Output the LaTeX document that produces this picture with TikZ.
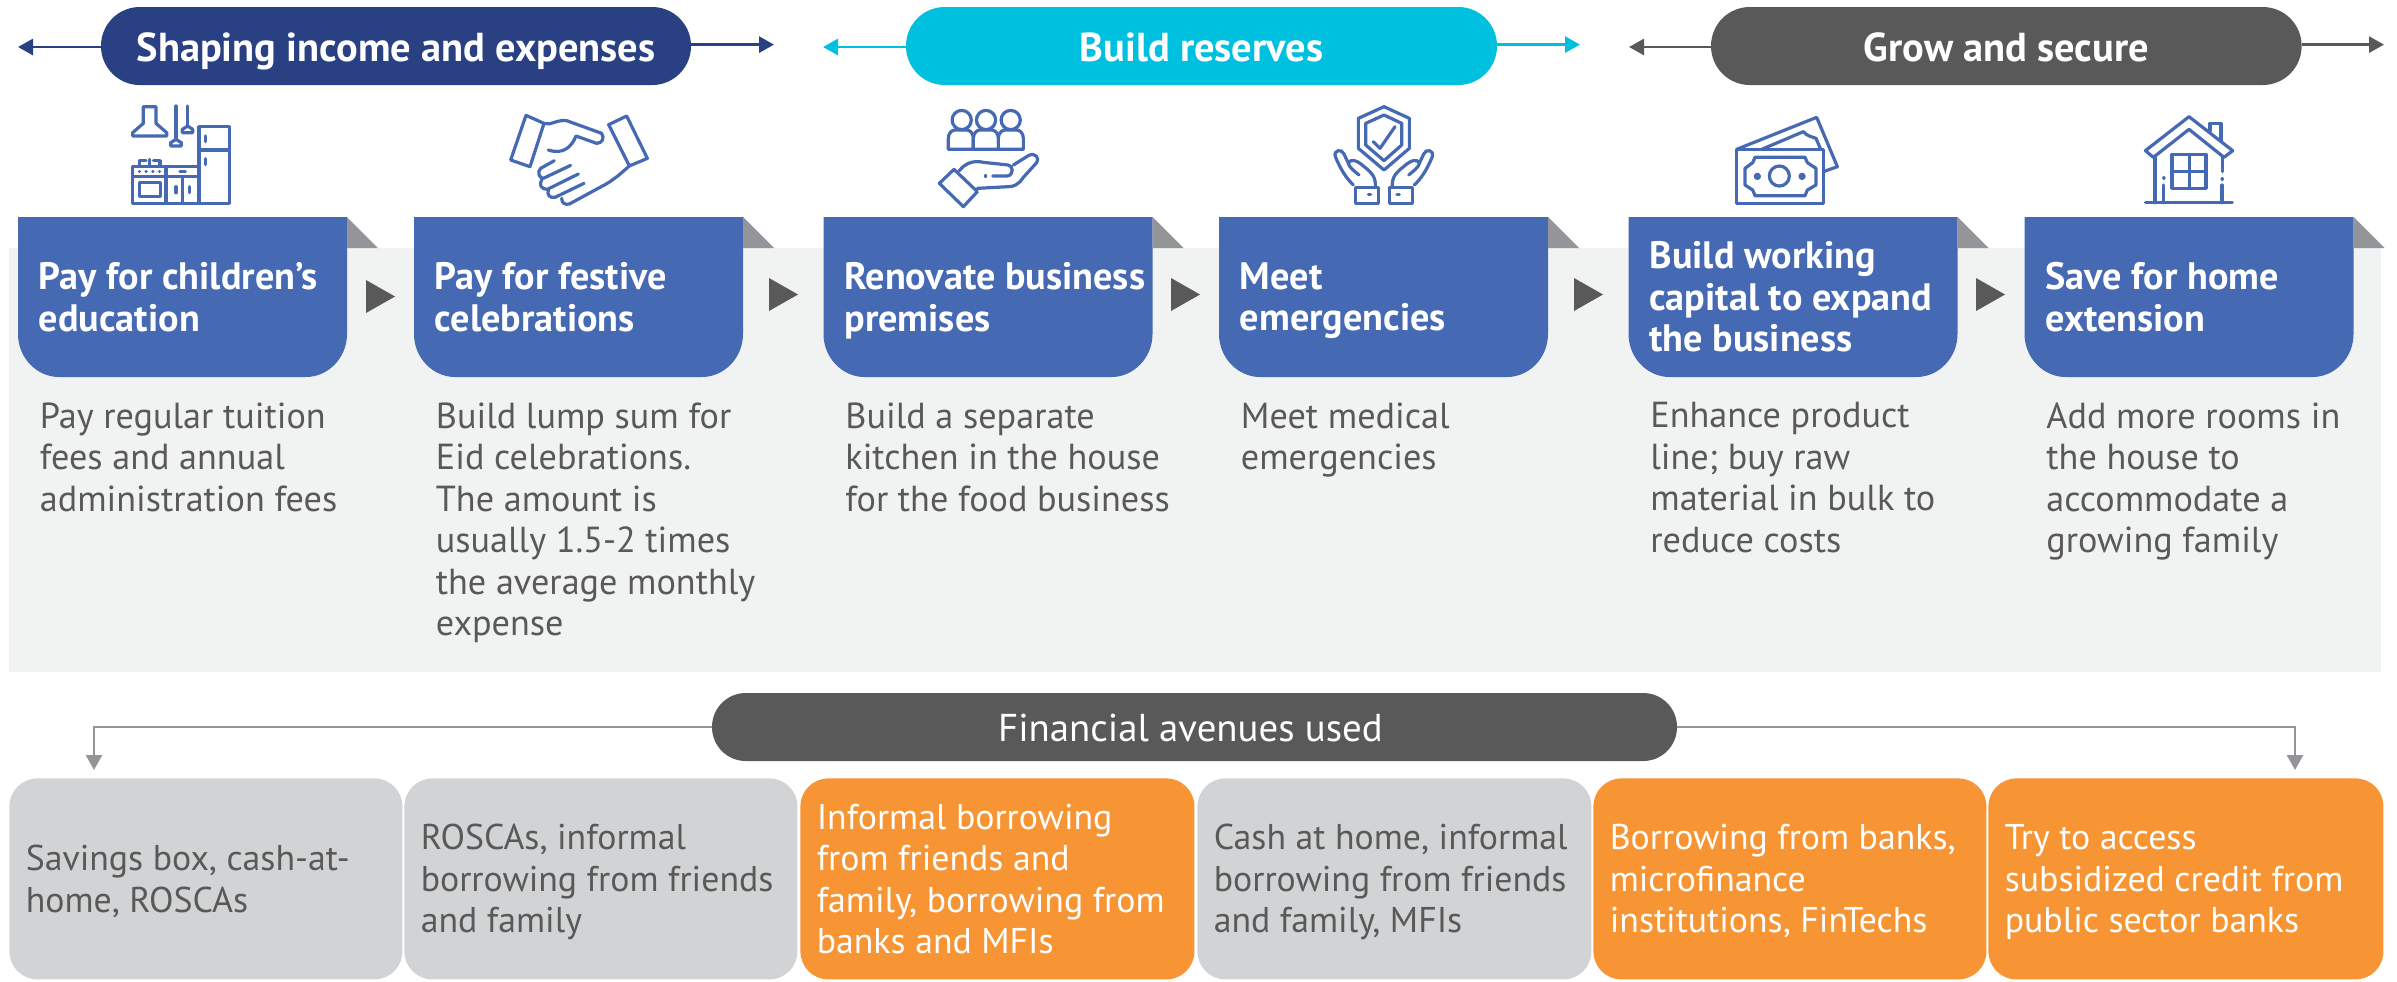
\documentclass[tikz,border=0pt]{standalone}
\usepackage{fontspec}
\setmainfont{PT Sans}
\usetikzlibrary{arrows.meta}
\definecolor{navy}{HTML}{294182}
\definecolor{cyanc}{HTML}{00C0E0}
\definecolor{darkg}{HTML}{595959}
\definecolor{cardb}{HTML}{4569B2}
\definecolor{orangec}{HTML}{F79433}
\definecolor{boxg}{HTML}{D1D3D4}
\definecolor{foldg}{HTML}{939598}
\definecolor{panel}{HTML}{F1F3F3}
\newcommand{\dn}[1]{\raisebox{-3pt}{#1}}
\tikzset{
  struts/.style={execute at begin node=\strut,execute at end node=\strut},
  pill/.style={struts,rounded corners=19.4pt,inner sep=0pt,text=white,minimum height=39pt,font=\fontsize{20.2}{24}\selectfont\bfseries},
  fapill/.style={struts,rounded corners=16.9pt,inner sep=0pt,text=white,fill=darkg,minimum height=34pt,font=\fontsize{19.4}{22}\selectfont},
  arr/.style={line width=1.4pt,-{Triangle[length=7.5pt,width=8pt]}},
  title/.style={struts,anchor=west,inner sep=0pt,text=white,align=left,font=\fontsize{19.1}{20.75pt}\selectfont\bfseries},
  bodyt/.style={struts,anchor=north west,inner sep=0pt,text=darkg,align=left,font=\fontsize{18.1}{20.75pt}\selectfont},
  finbox/.style={anchor=north west,rounded corners=14pt,inner sep=0pt,minimum height=100.5pt},
  greybox/.style={finbox,fill=boxg},
  orangebox/.style={finbox,fill=orangec},
  fintext/.style={struts,anchor=west,inner sep=0pt,xshift=8.2pt,yshift=-3pt,align=left,font=\fontsize{17.9}{20.75pt}\selectfont},
  icon/.style={draw=cardb,line width=1.6pt,line join=round,line cap=round,fill=none},
  iconz/.style={x=.16667pt,y=-.16667pt},
}
\newcommand{\mkcard}[5]{%
  \fill[cardb] (#2,217) -- ({#2+329},217) -- ({#2+329},334) .. controls ({#2+329},358) and ({#2+310},377) .. ({#2+288},377) -- ({#2+41},377) .. controls ({#2+19},377) and (#2,358) .. (#2,334) -- cycle;
  \fill[foldg] ({#2+329},217) -- ({#2+360},248) -- ({#2+329},248) -- cycle;
  \node[title] (t#1) at ({#2+20.5},303) {#3};
  \node[bodyt] (b#1) at ({#2+21.5},#5) {#4};
}
\newcommand{\playtri}[2]{\fill[darkg] (#1,{#2-16.5}) -- ({#1+29},#2) -- (#1,{#2+16.5}) -- cycle;}
\begin{document}
\begin{tikzpicture}[x=.5pt,y=-.5pt]
\useasboundingbox (0,0) rectangle (2397,981);
\fill[panel] (9,248) rectangle (2381,672);

% headers
\node[pill,fill=navy,minimum width=295pt] (p1) at (396,46) {\dn{Shaping income and expenses}};
\node[pill,fill=cyanc,minimum width=295.5pt] (p2) at (1201.5,46) {\dn{Build reserves}};
\node[pill,fill=darkg,minimum width=295.3pt] (p3) at (2006.3,46) {\dn{Grow and secure}};
\coordinate (p1l) at (18,47); \coordinate (p1r) at (774,44.6);
\coordinate (p2l) at (823,47); \coordinate (p2r) at (1580,44.6);
\coordinate (p3l) at (1629,47); \coordinate (p3r) at (2384,44.6);
\draw[arr,navy] (p1.west |- p1l) -- (p1l);
\draw[arr,navy] (p1.east |- p1r) -- (p1r);
\draw[arr,cyanc] (p2.west |- p2l) -- (p2l);
\draw[arr,cyanc] (p2.east |- p2r) -- (p2r);
\draw[arr,darkg] (p3.west |- p3l) -- (p3l);
\draw[arr,darkg] (p3.east |- p3r) -- (p3r);

% cards
\mkcard{1}{18}{Pay for children’s\\education}{Pay regular tuition\\fees and annual\\administration fees}{402}
\mkcard{2}{414}{Pay for festive\\celebrations}{Build lump sum for\\Eid celebrations.\\The amount is\\usually 1.5-2 times\\the average monthly\\expense}{402}
\mkcard{3}{823.5}{Renovate business\\premises}{Build a separate\\kitchen in the house\\for the food business}{402}
\mkcard{4}{1219}{Meet\\emergencies}{Meet medical\\emergencies}{402}
\mkcard{5}{1628.5}{Build working\\capital to expand\\the business}{Enhance product\\line; buy raw\\material in bulk to\\reduce costs}{402}
\mkcard{6}{2024.5}{Save for home\\extension}{Add more rooms in\\the house to\\accommodate a\\growing family}{402}
\playtri{366}{296.5}
\playtri{769}{294.5}
\playtri{1171}{294.5}
\playtri{1574}{294.5}
\playtri{1976}{294.5}

% icon: kitchen
\begin{scope}[shift={(120,100)},iconz,icon]
\draw[icon] (70,70)--(70,20)--(108,20)--(108,70)--(140,98)--(140,108)--(38,108)--(38,98)--cycle;
\draw[icon] (168,18)--(168,118) (203,18)--(203,78);
\draw[icon] (152,138)--(152,128)--(168,118)--(184,128)--(184,138)--cycle;
\draw[icon] (187,98)--(187,88)--(203,78)--(218,88)--(218,98)--cycle;
\draw[icon] (237,80) rectangle (328,310);
\draw[icon] (237,150)--(328,150);
\draw[icon] (257,108)--(257,125) (257,176)--(257,194);
\draw[icon] (38,200) rectangle (237,310);
\draw[icon] (138,200)--(138,310) (38,230)--(237,230) (188,230)--(188,310);
\draw[icon] (58,248) rectangle (122,290);
\draw[icon] (58,215)--(59,215) (78,215)--(79,215) (98,215)--(99,215) (118,215)--(119,215);
\draw[icon] (180,215)--(196,215) (168,260)--(168,278) (208,260)--(208,278);
\draw[icon] (58,198)--(58,182)--(78,182) (88,198)--(88,178) (100,182)--(120,182)--(120,198);
\end{scope}

% icon: handshake
\begin{scope}[shift={(500,100)},iconz,icon]
\draw[icon] (78,46)--(132,70)--(90,200)--(32,180)--cycle;
\draw[icon] (326,74)--(380,48)--(442,175)--(388,198)--cycle;
\draw[icon] (132,70) .. controls (150,78) and (170,58) .. (200,62) -- (305,100) .. controls (315,115) and (305,130) .. (290,130) -- (228,108) .. controls (215,140) and (190,165) .. (145,150);
\draw[icon] (163,182)--(122,205) .. controls (110,215) and (118,235) .. (130,235) -- (212,196);
\draw[icon] (125,240) .. controls (115,255) and (125,268) .. (142,268) -- (235,222);
\draw[icon] (145,270) .. controls (140,285) and (150,295) .. (165,292) -- (252,250);
\draw[icon] (185,295) .. controls (185,310) and (195,315) .. (208,312) -- (300,262) .. controls (340,242) and (360,222) .. (388,198);
\end{scope}

% icon: hand with people
\begin{scope}[shift={(920,100)},iconz,icon]
\foreach \cx in {125,198,272}{
  \draw[icon] (\cx,60) circle[radius=4.8pt];
}
\foreach \lx in {85,160,235}{
  \draw[icon] (\lx,148) -- (\lx,115) .. controls (\lx,100) and ({\lx+10},90) .. ({\lx+20},90) -- ({\lx+55},90) .. controls ({\lx+65},90) and ({\lx+75},100) .. ({\lx+75},115) -- ({\lx+75},148) -- cycle;
}
\draw[icon] (102,208)--(172,275)--(130,320)--(58,250)--cycle;
\draw[icon] (118,212) .. controls (135,190) and (160,180) .. (190,187) -- (265,195) .. controls (280,197) and (282,225) .. (262,228) -- (218,228);
\draw[icon] (280,195)--(325,167) .. controls (345,155) and (360,175) .. (350,188) -- (310,232) .. controls (295,255) and (280,260) .. (265,260) -- (172,265);
\draw[icon] (196,228)--(197,228);
\end{scope}

% icon: shield and hands
\begin{scope}[shift={(1300,100)},iconz,icon]
\draw[icon] (252,20)--(328,55)--(328,145)--(252,210)--(175,145)--(175,55)--cycle;
\draw[icon] (252,45)--(305,70)--(305,135)--(252,182)--(197,135)--(197,70)--cycle;
\draw[icon] (220,125)--(240,145)--(285,80);
\foreach \m/\o in {1/0,-1/503}{
\begin{scope}[xshift=\o*.16667pt,x=\m*.16667pt]
\draw[icon] (166,262) rectangle (235,310);
\draw[icon] (205,284)--(212,284);
\draw[icon] (160,255) .. controls (140,235) and (125,215) .. (106,170) .. controls (100,150) and (125,145) .. (132,162) -- (145,190) .. controls (150,175) and (170,180) .. (190,198) .. controls (215,218) and (228,230) .. (226,262);
\draw[icon] (145,190) .. controls (145,200) and (165,215) .. (177,225);
\end{scope}}
\end{scope}

% icon: banknotes
\begin{scope}[shift={(1700,100)},iconz,icon]
\draw[icon] (110,148) rectangle (370,310);
\draw[icon] (110,148)--(350,52)--(412,200)--(370,215);
\draw[icon] (185,148)--(310,95) .. controls (320,108) and (335,110) .. (348,115) -- (362,148);
\draw[icon] (165,172)--(315,172)--(322,188)--(348,205)--(348,255)--(322,270)--(315,287)--(165,287)--(158,270)--(135,255)--(135,205)--(158,188)--cycle;
\draw[icon] (238,228) circle[radius=5pt];
\draw[icon] (172,229) circle[radius=1pt];
\draw[icon] (306,229) circle[radius=1pt];
\end{scope}

% icon: house
\begin{scope}[shift={(2100,100)},iconz,icon]
\draw[icon] (267,50)--(398,152)--(372,172)--(267,88)--(160,172)--(136,152)--cycle;
\draw[icon] (330,92)--(330,70)--(363,70)--(363,122);
\draw[icon] (165,172)--(165,308) (368,172)--(368,215) (366,255)--(366,308) (190,255)--(190,308);
\draw[icon] (366,237)--(367,237) (191,234)--(192,234);
\draw[icon] (216,163) rectangle (318,265);
\draw[icon] (268,163)--(268,265) (216,214)--(318,214);
\draw[icon] (136,308)--(397,308);
\end{scope}

% financial avenues
\node[fapill,minimum width=482.5pt] (fa) at (1194.5,727) {\hspace*{-2pt}\dn{Financial avenues used}\hspace*{2pt}};
\coordinate (fl) at (94,770);
\coordinate (fr) at (2295,770);
\draw[line width=1.4pt,foldg,-{Triangle[length=7.5pt,width=8pt]}] (fa.west) -| (fl);
\draw[line width=1.4pt,foldg,-{Triangle[length=7.5pt,width=8pt]}] (fa.east) -| (fr);

\node[greybox,minimum width=196.5pt] (f1) at (9,778) {};
\node[greybox,minimum width=196.5pt] (f2) at (404,778) {};
\node[orangebox,minimum width=197pt] (f3) at (800,778) {};
\node[greybox,minimum width=197pt] (f4) at (1197,778) {};
\node[orangebox,minimum width=196.5pt] (f5) at (1593,778) {};
\node[orangebox,minimum width=197.5pt] (f6) at (1988,778) {};
\node[fintext,text=darkg] (ft1) at (f1.west) {Savings box, cash-at-\\home, ROSCAs};
\node[fintext,text=darkg] (ft2) at (f2.west) {ROSCAs, informal\\borrowing from friends\\and family};
\node[fintext,text=white] (ft3) at (f3.west) {Informal borrowing\\from friends and\\family, borrowing from\\banks and MFIs};
\node[fintext,text=darkg] (ft4) at (f4.west) {Cash at home, informal\\borrowing from friends\\and family, MFIs};
\node[fintext,text=white] (ft5) at (f5.west) {Borrowing from banks,\\microfinance\\institutions, FinTechs};
\node[fintext,text=white] (ft6) at (f6.west) {Try to access\\subsidized credit from\\public sector banks};
\end{tikzpicture}
\end{document}
